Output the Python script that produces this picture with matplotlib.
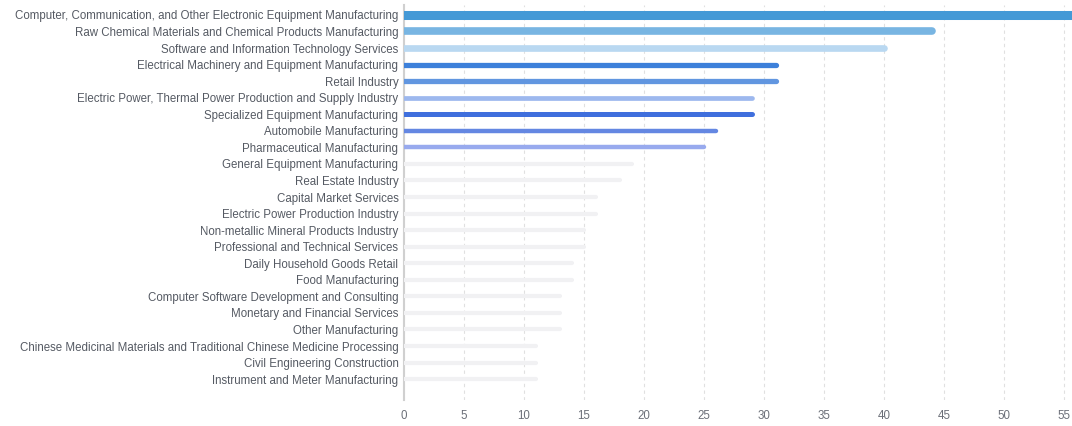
import matplotlib.pyplot as plt

plt.rcParams['font.family'] = ['Liberation Sans', 'DejaVu Sans']
plt.rcParams['font.size'] = 8.3

industries = [
    'Computer, Communication, and Other Electronic Equipment Manufacturing',
    'Raw Chemical Materials and Chemical Products Manufacturing',
    'Software and Information Technology Services',
    'Electrical Machinery and Equipment Manufacturing',
    'Retail Industry',
    'Electric Power, Thermal Power Production and Supply Industry',
    'Specialized Equipment Manufacturing',
    'Automobile Manufacturing',
    'Pharmaceutical Manufacturing',
    'General Equipment Manufacturing',
    'Real Estate Industry',
    'Capital Market Services',
    'Electric Power Production Industry',
    'Non-metallic Mineral Products Industry',
    'Professional and Technical Services',
    'Daily Household Goods Retail',
    'Food Manufacturing',
    'Computer Software Development and Consulting',
    'Monetary and Financial Services',
    'Other Manufacturing',
    'Chinese Medicinal Materials and Traditional Chinese Medicine Processing',
    'Civil Engineering Construction',
    'Instrument and Meter Manufacturing',
]
counts = [60, 44, 40, 31, 31, 29, 29, 26, 25, 19, 18, 16, 16, 15, 15, 14, 14, 13, 13, 13, 11, 11, 11]

top_colors = ['#4499d6', '#78b5e2', '#b9d8f1', '#3d80da', '#6196e0',
              '#9db8ee', '#3f6fdd', '#6487e2', '#98aaee']
top_widths = [6.5, 5.5, 4.8, 3.8, 3.8, 3.4, 3.6, 3.2, 3.2]
grey = '#f1f1f3'

fig = plt.figure(figsize=(10.72, 4.26), dpi=100)
ax = fig.add_axes([404 / 1072, 26 / 426, 1 - 404 / 1072, 395 / 426])

for i, (name, v) in enumerate(zip(industries, counts)):
    if i < len(top_colors):
        c, lw = top_colors[i], top_widths[i]
    else:
        c, lw = grey, 3.0
    ax.plot([0, v], [i, i], color=c, linewidth=lw, solid_capstyle='round', zorder=3)

ax.set_xlim(0, 55.67)
ax.set_ylim(23.26, -0.6)
ax.set_yticks(range(len(industries)))
ax.set_yticklabels(industries, color='#555a63', fontsize=8.3)
ax.set_xticks(range(0, 60, 5))
ax.tick_params(axis='x', colors='#6b6f78', length=0, pad=7, labelsize=8.3)
ax.tick_params(axis='y', length=0, pad=4)
ax.grid(axis='x', linestyle=(0, (3, 3)), color='#e0e0e0', linewidth=0.8, zorder=0)
for s in ['top', 'right', 'bottom']:
    ax.spines[s].set_visible(False)
ax.spines['left'].set_color('#d0d0d0')
ax.spines['left'].set_linewidth(1.5)

plt.savefig('out.png', dpi=100)
